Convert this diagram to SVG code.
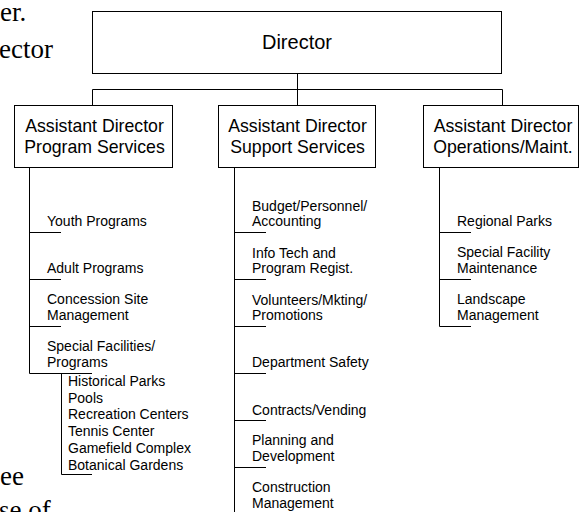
<svg xmlns="http://www.w3.org/2000/svg" width="579" height="512" viewBox="0 0 579 512">
  <style>
    .box { fill: #fff; stroke: #000; stroke-width: 1; }
    .ln { fill: none; stroke: #000; stroke-width: 1; }
    .t { font-family: "Liberation Sans", Arial, sans-serif; fill: #000; }
    .top { font-size: 20px; text-anchor: middle; }
    .hd { font-size: 17.7px; text-anchor: middle; }
    .it { font-size: 14px; }
    .bg { font-family: "Liberation Serif", "Times New Roman", serif; font-size: 27px; fill: #000; }
  </style>
  <rect width="579" height="512" fill="#fff"/>

  <!-- surrounding page text, cut off at the edges -->
  <g id="page-text">
    <text class="bg" x="0" y="21">er.</text>
    <text class="bg" x="-1" y="58">ector</text>
    <text class="bg" x="0" y="485">ee</text>
    <text class="bg" x="-1" y="519">se of</text>
  </g>

  <!-- connectors -->
  <g id="connectors" class="ln">
    <path d="M297.5 74 V105.5"/>
    <path d="M92.5 106 V89.5 H502.5 V106"/>
    <!-- program services branch -->
    <path d="M29.5 168 V373.5 H92"/>
    <path d="M29.5 232.5 H61 M29.5 279.5 H61 M29.5 326.5 H61"/>
    <path d="M61.5 373.5 V474.5 H92"/>
    <!-- support services branch -->
    <path d="M234.5 168 V512"/>
    <path d="M234.5 232.5 H266 M234.5 279.5 H266 M234.5 326.5 H266 M234.5 373.5 H266 M234.5 420.5 H266 M234.5 467.5 H266"/>
    <!-- operations branch -->
    <path d="M439.5 168 V326.5 H471"/>
    <path d="M439.5 232.5 H471 M439.5 279.5 H471"/>
  </g>

  <g id="director">
    <rect class="box" x="92.5" y="11.5" width="409" height="62"/>
    <text class="t top" x="297" y="49">Director</text>
  </g>

  <g id="program-services">
    <rect class="box" x="14.5" y="105.5" width="158" height="62"/>
    <text class="t hd" x="94.5" y="132">Assistant Director</text>
    <text class="t hd" x="94.5" y="153">Program Services</text>
  </g>

  <g id="support-services">
    <rect class="box" x="218.5" y="105.5" width="157" height="62"/>
    <text class="t hd" x="297.5" y="132">Assistant Director</text>
    <text class="t hd" x="297.5" y="153">Support Services</text>
  </g>

  <g id="operations">
    <rect class="box" x="423.5" y="105.5" width="155" height="62"/>
    <text class="t hd" x="503" y="132">Assistant Director</text>
    <text class="t hd" x="503" y="153">Operations/Maint.</text>
  </g>

  <g id="program-items" class="t it">
    <text x="47" y="226">Youth Programs</text>
    <text x="47" y="273">Adult Programs</text>
    <text x="47" y="304">Concession Site</text>
    <text x="47" y="320">Management</text>
    <text x="47" y="351">Special Facilities/</text>
    <text x="47" y="367">Programs</text>
  </g>

  <g id="special-facilities" class="t it">
    <text x="68" y="386">Historical Parks</text>
    <text x="68" y="402.7">Pools</text>
    <text x="68" y="419.4">Recreation Centers</text>
    <text x="68" y="436.1">Tennis Center</text>
    <text x="68" y="452.8">Gamefield Complex</text>
    <text x="68" y="469.5">Botanical Gardens</text>
  </g>

  <g id="support-items" class="t it">
    <text x="252" y="211">Budget/Personnel/</text>
    <text x="252" y="226">Accounting</text>
    <text x="252" y="257.5">Info Tech and</text>
    <text x="252" y="273">Program Regist.</text>
    <text x="252" y="304.5">Volunteers/Mkting/</text>
    <text x="252" y="320">Promotions</text>
    <text x="252" y="367">Department Safety</text>
    <text x="252" y="414.5">Contracts/Vending</text>
    <text x="252" y="445">Planning and</text>
    <text x="252" y="461">Development</text>
    <text x="252" y="492">Construction</text>
    <text x="252" y="508">Management</text>
  </g>

  <g id="operations-items" class="t it">
    <text x="457" y="226">Regional Parks</text>
    <text x="457" y="257">Special Facility</text>
    <text x="457" y="273">Maintenance</text>
    <text x="457" y="304">Landscape</text>
    <text x="457" y="320">Management</text>
  </g>
</svg>
